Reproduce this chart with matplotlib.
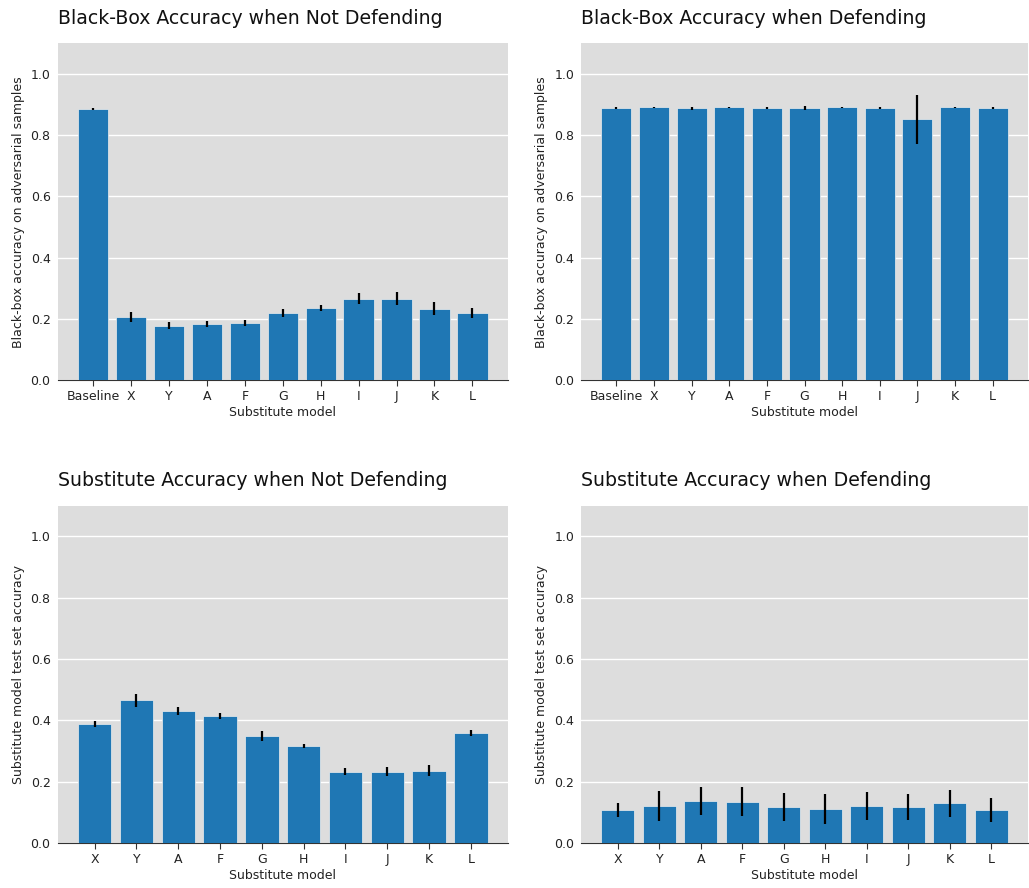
import matplotlib
matplotlib.use("Agg")
import matplotlib.pyplot as plt
import numpy as np

labels_bb = ["Baseline", "X", "Y", "A", "F", "G", "H", "I", "J", "K", "L"]
labels_sub = ["X", "Y", "A", "F", "G", "H", "I", "J", "K", "L"]

bb_nodef = [0.885, 0.205, 0.177, 0.183, 0.186, 0.219, 0.236, 0.266, 0.266, 0.233, 0.219]
bb_nodef_err = [0.003, 0.017, 0.011, 0.010, 0.010, 0.014, 0.010, 0.018, 0.022, 0.021, 0.017]

bb_def = [0.888, 0.891, 0.888, 0.891, 0.889, 0.889, 0.891, 0.889, 0.852, 0.891, 0.888]
bb_def_err = [0.003, 0.002, 0.004, 0.003, 0.003, 0.006, 0.002, 0.004, 0.079, 0.003, 0.003]

sub_nodef = [0.388, 0.465, 0.429, 0.415, 0.349, 0.316, 0.233, 0.233, 0.236, 0.358]
sub_nodef_err = [0.009, 0.020, 0.013, 0.009, 0.016, 0.006, 0.011, 0.016, 0.018, 0.010]

sub_def = [0.108, 0.121, 0.138, 0.135, 0.118, 0.111, 0.121, 0.118, 0.130, 0.108]
sub_def_err = [0.023, 0.048, 0.046, 0.048, 0.045, 0.049, 0.046, 0.042, 0.044, 0.040]

W, H = 1029, 888
fig = plt.figure(figsize=(W / 100, H / 100), dpi=100)

def rect(x0, x1, y0, y1):
    return [x0 / W, (H - y1) / H, (x1 - x0) / W, (y1 - y0) / H]

panels = [
    (rect(57.5, 508, 43.5, 380), labels_bb, bb_nodef, bb_nodef_err,
     "Black-Box Accuracy when Not Defending", "Black-box accuracy on adversarial samples"),
    (rect(581, 1028, 43.5, 380), labels_bb, bb_def, bb_def_err,
     "Black-Box Accuracy when Defending", "Black-box accuracy on adversarial samples"),
    (rect(57.5, 508, 505.7, 843), labels_sub, sub_nodef, sub_nodef_err,
     "Substitute Accuracy when Not Defending", "Substitute model test set accuracy"),
    (rect(581, 1028, 505.7, 843), labels_sub, sub_def, sub_def_err,
     "Substitute Accuracy when Defending", "Substitute model test set accuracy"),
]

for r, labels, vals, errs, title, ylab in panels:
    ax = fig.add_axes(r)
    ax.set_facecolor("#dddddd")
    x = np.arange(len(labels))
    ax.bar(x, vals, width=0.8, color="#1f77b4", edgecolor="#eeeeee", linewidth=0.5,
           yerr=errs, error_kw=dict(ecolor="black", elinewidth=1.6, capsize=0), zorder=3)
    ax.set_ylim(0, 1.1)
    ax.set_yticks([0.0, 0.2, 0.4, 0.6, 0.8, 1.0])
    ax.set_xticks(x)
    ax.set_xticklabels(labels)
    ax.grid(axis="y", color="white", linewidth=1.0, zorder=0)
    ax.set_axisbelow(True)
    for s in ["top", "right", "left"]:
        ax.spines[s].set_visible(False)
    ax.spines["bottom"].set_color("#333333")
    ax.tick_params(axis="y", length=0, labelsize=9, colors="#222222", pad=5)
    ax.tick_params(axis="x", length=4, color="#333333", labelsize=9, labelcolor="#222222")
    ax.set_xlabel("Substitute model", fontsize=9, color="#222222", labelpad=2)
    ax.set_ylabel(ylab, fontsize=9, color="#222222")
    ax.set_title(title, loc="left", fontsize=13.6, color="#111111", pad=14)

fig.savefig("out.png", dpi=100)
